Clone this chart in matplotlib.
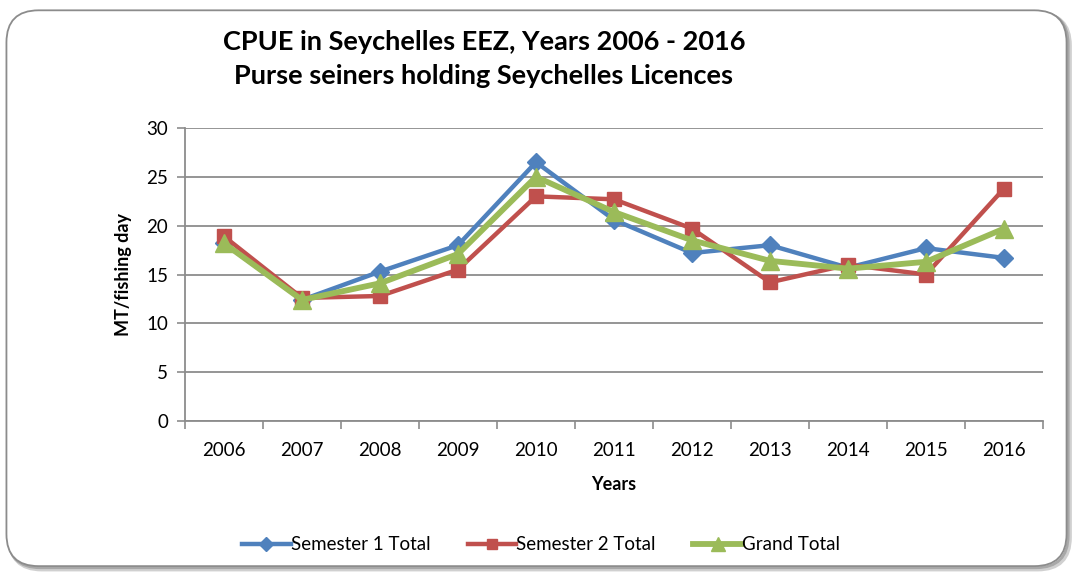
import matplotlib
matplotlib.use("Agg")
import matplotlib.pyplot as plt
from matplotlib.patches import FancyBboxPatch

years = ["2006", "2007", "2008", "2009", "2010", "2011", "2012", "2013", "2014", "2015", "2016"]
sem1 = [18.2, 12.4, 15.3, 18.0, 26.5, 20.6, 17.2, 18.0, 15.7, 17.7, 16.7]
sem2 = [18.9, 12.6, 12.8, 15.5, 23.0, 22.7, 19.7, 14.2, 16.0, 15.0, 23.8]
grand = [18.2, 12.4, 14.1, 17.1, 25.0, 21.4, 18.5, 16.4, 15.6, 16.3, 19.7]

plt.rcParams['font.family'] = ['Lato', 'DejaVu Sans']

fig = plt.figure(figsize=(10.73, 5.73), dpi=100)
# shadow + rounded border
for off, col, lw in [(0.003, "#d0d0d0", 3.0), (0.0015, "#a8a8a8", 2.0)]:
    sh = FancyBboxPatch((0.006 + off, 0.012 - off * 1.87), 0.988, 0.97, boxstyle="round,pad=0,rounding_size=0.03",
                        transform=fig.transFigure, facecolor="none", edgecolor=col,
                        linewidth=lw, mutation_aspect=1.87, zorder=-2)
    fig.patches.append(sh)
border = FancyBboxPatch((0.006, 0.012), 0.988, 0.97, boxstyle="round,pad=0,rounding_size=0.03",
                        transform=fig.transFigure, facecolor="white", edgecolor="#8c8c8c",
                        linewidth=1.3, mutation_aspect=1.87, zorder=-1)
fig.patches.append(border)

ax = fig.add_axes([185/1073, 1 - 421/573, (1043-185)/1073, (421-128)/573])
ax.set_facecolor("none")
x = list(range(len(years)))
ax.plot(x, sem1, color="#4F81BD", lw=3.2, marker="D", ms=9.5, label="Semester 1 Total", zorder=3)
ax.plot(x, sem2, color="#C0504D", lw=3.2, marker="s", ms=10.5, label="Semester 2 Total", zorder=3)
ax.plot(x, grand, color="#9BBB59", lw=4.2, marker="^", ms=13, label="Grand Total", zorder=4)

ax.set_xlim(-0.5, len(years) - 0.5)
ax.set_ylim(0, 30)
ax.set_yticks(range(0, 31, 5))
ax.set_xticks(x)
ax.set_xticklabels(years)
ax.set_xticks([i - 0.5 for i in range(len(years) + 1)], minor=True)
ax.tick_params(axis="x", which="major", length=0, pad=15, labelsize=13.5)
ax.tick_params(axis="x", which="minor", length=6, color="#8c8c8c", width=1.2, direction="out")
ax.tick_params(axis="y", length=6, color="#8c8c8c", width=1.2, direction="out", labelsize=13.5, pad=6)
ax.grid(axis="y", color="#8c8c8c", lw=1.3)
ax.set_axisbelow(True)
for s in ["top", "right"]:
    ax.spines[s].set_visible(False)
for s in ["left", "bottom"]:
    ax.spines[s].set_color("#8c8c8c")
    ax.spines[s].set_linewidth(1.3)

ax.set_xlabel("Years", fontsize=13, fontweight="bold", labelpad=12)
ax.set_ylabel("MT/fishing day", fontsize=13, fontweight="bold", labelpad=10)

fig.text(484/1073, 1 - 42/573, "CPUE in Seychelles EEZ, Years 2006 - 2016", ha="center", va="center",
         fontsize=19.5, fontweight="bold")
fig.text(484/1073, 1 - 76/573, "Purse seiners holding Seychelles Licences", ha="center", va="center",
         fontsize=19.5, fontweight="bold")

fig.legend(loc="center", bbox_to_anchor=(541/1073, 1 - 545/573), ncol=3, frameon=False,
           fontsize=13.5, handlelength=2.6, handletextpad=0.0, columnspacing=2.0, markerscale=0.75)

fig.savefig("out.png", dpi=100)
